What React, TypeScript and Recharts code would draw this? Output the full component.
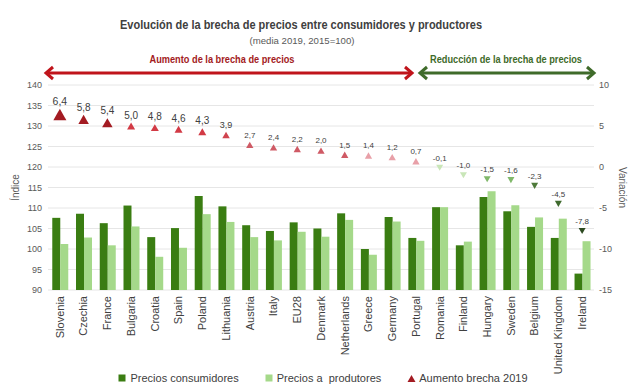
import React from 'react';
import { ComposedChart, Bar, Scatter, XAxis, YAxis, CartesianGrid, Legend } from 'recharts';

const countries = [
  'Slovenia', 'Czechia', 'France', 'Bulgaria', 'Croatia', 'Spain', 'Poland', 'Lithuania',
  'Austria', 'Italy', 'EU28', 'Denmark', 'Netherlands', 'Greece', 'Germany', 'Portugal',
  'Romania', 'Finland', 'Hungary', 'Sweden', 'Belgium', 'United Kingdom', 'Ireland',
];
const consumerPrices = [
  107.6, 108.6, 106.3, 110.6, 102.9, 105.1, 112.9, 110.4,
  105.8, 104.4, 106.5, 105.0, 108.7, 100.0, 107.8, 102.7,
  110.2, 100.9, 112.7, 109.2, 105.4, 102.7, 94.0,
];
const producerPrices = [
  101.2, 102.8, 100.9, 105.5, 98.1, 100.3, 108.5, 106.6,
  102.9, 102.1, 104.2, 103.0, 107.1, 98.6, 106.7, 102.0,
  110.2, 101.8, 114.1, 110.7, 107.7, 107.4, 101.9,
];
const gapChange = [
  6.4, 5.8, 5.4, 5.0, 4.8, 4.6, 4.3, 3.9,
  2.7, 2.4, 2.2, 2.0, 1.5, 1.4, 1.2, 0.7,
  -0.1, -1.0, -1.5, -1.6, -2.3, -4.5, -7.8,
];
const leftTicks = [90, 95, 100, 105, 110, 115, 120, 125, 130, 135, 140];
const rightTicks = [-15, -10, -5, 0, 5, 10];

const data = countries.map((name, i) => ({
  name,
  consumer: consumerPrices[i],
  producer: producerPrices[i],
  gap: gapChange[i],
}));

const FONT = '"Liberation Sans", Arial, sans-serif';
const DARK_GREEN = '#3A7D12';
const LIGHT_GREEN = '#A5D98A';
const DARK_RED = '#A31B22';

function triStyle(v: number) {
  if (v >= 6) return { fill: DARK_RED, size: 13, font: 10.5 };
  if (v >= 5.4) return { fill: DARK_RED, size: 10.5, font: 10 };
  if (v >= 4.3) return { fill: '#D23A45', size: 8, font: 10 };
  if (v >= 3) return { fill: '#D0444F', size: 7.5, font: 9 };
  if (v >= 1.5) return { fill: '#CF5A65', size: 7.3, font: 8 };
  if (v > 0) return { fill: '#E8A0A8', size: 7.3, font: 8 };
  if (v > -1.2) return { fill: '#C9E6B8', size: 7, font: 8 };
  if (v > -2) return { fill: '#80B86A', size: 7, font: 8 };
  if (v > -3) return { fill: '#4E7A3A', size: 7, font: 8 };
  if (v > -6) return { fill: '#3F6A2D', size: 7, font: 8 };
  return { fill: '#2D4A20', size: 7, font: 8 };
}

const TriangleShape = (props: any) => {
  const { cx, cy, payload } = props;
  if (cx == null || cy == null) return null;
  const v: number = payload.gap;
  const st = triStyle(v);
  const s = st.size;
  const h = s * 0.87;
  const up = v > 0;
  const pts = up
    ? `${cx},${cy - h / 2} ${cx - s / 2},${cy + h / 2} ${cx + s / 2},${cy + h / 2}`
    : `${cx - s / 2},${cy - h / 2} ${cx + s / 2},${cy - h / 2} ${cx},${cy + h / 2}`;
  return (
    <g>
      <polygon points={pts} fill={st.fill} />
      <text
        x={cx}
        y={cy - h / 2 - 4}
        textAnchor="middle"
        fontSize={st.font}
        fill="#404040"
        fontFamily={FONT}
      >
        {v.toFixed(1).replace('.', ',')}
      </text>
    </g>
  );
};

const XTick = (props: any) => {
  const { x, y, payload } = props;
  return (
    <text
      x={x}
      y={y}
      transform={`rotate(-90, ${x}, ${y})`}
      textAnchor="end"
      dy="0.35em"
      fontSize={11}
      fill="#404040"
      fontFamily={FONT}
    >
      {payload.value}
    </text>
  );
};

const LegendContent = () => (
  <div
    style={{
      display: 'flex',
      justifyContent: 'center',
      alignItems: 'center',
      gap: 26,
      fontFamily: FONT,
      fontSize: 11,
      color: '#404040',
      height: 16,
      marginLeft: 14,
    }}
  >
    <span style={{ display: 'flex', alignItems: 'center' }}>
      <svg width={9} height={9} style={{ marginRight: 3 }}>
        <rect x={0.5} y={0.5} width={7} height={7} fill={DARK_GREEN} />
      </svg>
      Precios consumidores
    </span>
    <span style={{ display: 'flex', alignItems: 'center' }}>
      <svg width={9} height={9} style={{ marginRight: 3 }}>
        <rect x={0.5} y={0.5} width={7} height={7} fill={LIGHT_GREEN} />
      </svg>
      {'Precios a\u00a0 produtores'}
    </span>
    <span style={{ display: 'flex', alignItems: 'center' }}>
      <svg width={9} height={9} style={{ marginRight: 3 }}>
        <polygon points="4.5,1 8.5,8 0.5,8" fill={DARK_RED} />
      </svg>
      Aumento brecha 2019
    </span>
  </div>
);

const ArrowHead = ({ x, y, dir, color }: { x: number; y: number; dir: number; color: string }) => (
  <polyline
    points={`${x + dir * 7},${y - 6} ${x},${y} ${x + dir * 7},${y + 6}`}
    fill="none"
    stroke={color}
    strokeWidth={3}
    strokeLinejoin="miter"
  />
);

export default function App() {
  const redC = '#C0141B';
  const greenC = '#3F6B2A';
  return (
    <div style={{ position: 'absolute', left: 0, top: 0, width: 632, height: 390, background: '#fff' }}>
      <ComposedChart
        width={632}
        height={390}
        data={data}
        margin={{ top: 85, right: 0, bottom: 20, left: 0 }}
        barCategoryGap="18%"
        barGap={0}
      >
        <CartesianGrid yAxisId="left" vertical={false} stroke="#E6E6E6" />
        <XAxis
          dataKey="name"
          interval={0}
          tickLine={false}
          axisLine={false}
          height={80}
          tick={<XTick />}
          tickSize={4}
          tickMargin={2}
        />
        <YAxis
          yAxisId="left"
          orientation="left"
          width={48}
          domain={[90, 140]}
          ticks={leftTicks}
          interval={0}
          axisLine={false}
          tickLine={false}
          tickSize={4}
          tick={{ fontSize: 9, fill: '#595959', fontFamily: FONT }}
          label={{
            value: 'Índice',
            content: (p: any) => {
              const vb = p.viewBox;
              const x = vb.x + 15;
              const y = vb.y + vb.height / 2;
              return (
                <text x={x} y={y} transform={`rotate(-90, ${x}, ${y})`} textAnchor="middle" dy="0.35em"
                  fontSize={10} fill="#595959" fontFamily={FONT}>Índice</text>
              );
            },
          }}
        />
        <YAxis
          yAxisId="right"
          orientation="right"
          width={38}
          domain={[-15, 10]}
          ticks={rightTicks}
          interval={0}
          axisLine={false}
          tickLine={false}
          tickSize={3}
          tick={{ fontSize: 9, fill: '#595959', fontFamily: FONT }}
          label={{
            value: 'Variación',
            content: (p: any) => {
              const vb = p.viewBox;
              const x = vb.x + 28;
              const y = vb.y + vb.height / 2;
              return (
                <text x={x} y={y} transform={`rotate(90, ${x}, ${y})`} textAnchor="middle" dy="0.35em"
                  fontSize={10} fill="#595959" fontFamily={FONT}>Variación</text>
              );
            },
          }}
        />
        <Legend
          verticalAlign="middle"
          align="center"
          content={<LegendContent />}
          wrapperStyle={{ position: 'absolute', top: 370, left: 0, width: 632 }}
        />
        <Bar yAxisId="left" dataKey="consumer" name="Precios consumidores" fill={DARK_GREEN} isAnimationActive={false} />
        <Bar yAxisId="left" dataKey="producer" name="Precios a  produtores" fill={LIGHT_GREEN} isAnimationActive={false} />
        <Scatter yAxisId="right" dataKey="gap" name="Aumento brecha 2019" fill={DARK_RED} shape={<TriangleShape />} isAnimationActive={false} />
      </ComposedChart>
      <svg
        width={632}
        height={85}
        style={{ position: 'absolute', left: 0, top: 0, pointerEvents: 'none' }}
      >
        <text x={301} y={29} textAnchor="middle" fontSize={12} fontWeight="bold" fill="#404040"
          fontFamily={FONT} textLength={362} lengthAdjust="spacingAndGlyphs">
          Evolución de la brecha de precios entre consumidores y productores
        </text>
        <text x={302} y={44} textAnchor="middle" fontSize={9.5} fill="#595959"
          fontFamily={FONT} textLength={105} lengthAdjust="spacingAndGlyphs">
          (media 2019, 2015=100)
        </text>
        <text x={222} y={63} textAnchor="middle" fontSize={10} fontWeight="bold" fill={DARK_RED}
          fontFamily={FONT} textLength={145} lengthAdjust="spacingAndGlyphs">
          Aumento de la brecha de precios
        </text>
        <text x={506} y={63} textAnchor="middle" fontSize={10} fontWeight="bold" fill={greenC}
          fontFamily={FONT} textLength={152} lengthAdjust="spacingAndGlyphs">
          Reducción de la brecha de precios
        </text>
        <line x1={46} y1={73} x2={412} y2={73} stroke={redC} strokeWidth={3} />
        <ArrowHead x={46} y={73} dir={1} color={redC} />
        <ArrowHead x={412} y={73} dir={-1} color={redC} />
        <line x1={420} y1={73} x2={594} y2={73} stroke={greenC} strokeWidth={3} />
        <ArrowHead x={420} y={73} dir={1} color={greenC} />
        <ArrowHead x={594} y={73} dir={-1} color={greenC} />
      </svg>
    </div>
  );
}
